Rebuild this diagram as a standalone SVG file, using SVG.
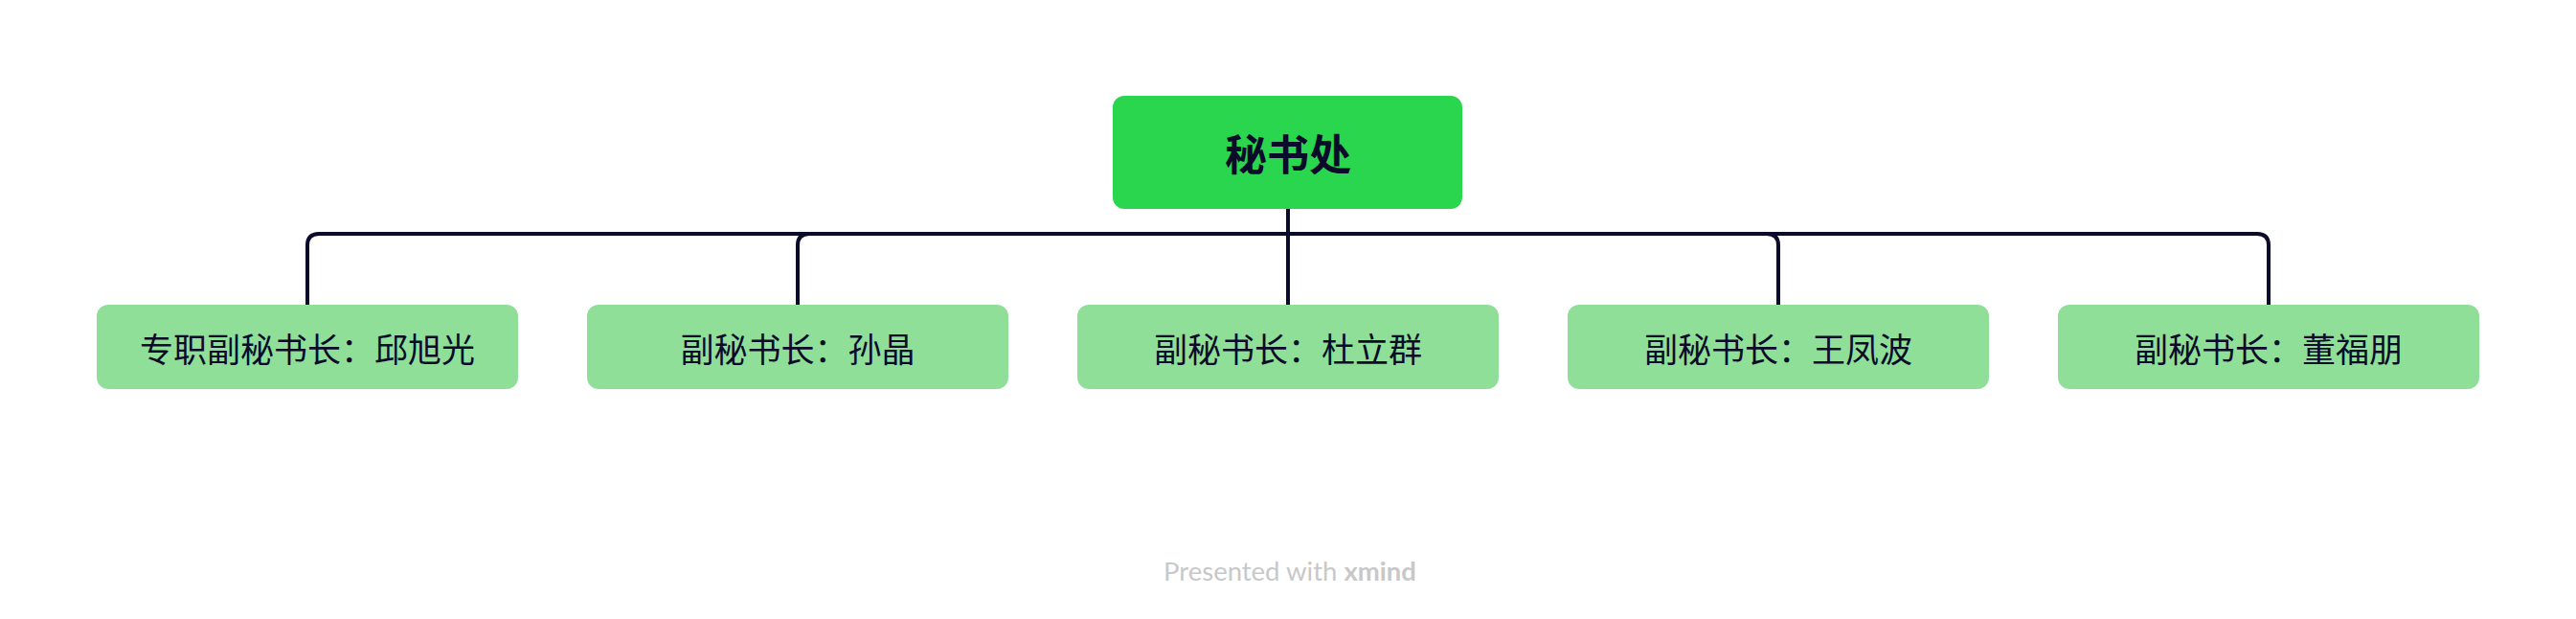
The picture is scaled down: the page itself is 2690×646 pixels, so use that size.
<svg xmlns="http://www.w3.org/2000/svg" width="2690" height="646" viewBox="0 0 2690 646">
<style>
.ch{fill:#8fdf98}
.t{font-family:"Noto Sans CJK SC","Noto Sans",sans-serif;fill:#0b0b2a;text-anchor:middle;dominant-baseline:central}
.c{fill:none;stroke:#0b0b2a;stroke-width:4}
</style>
<rect width="2690" height="646" fill="#fff"/>
<g id="connectors">
<line class="c" x1="1345" y1="218" x2="1345" y2="318"/>
<path class="c" d="M321 318V256Q321 244 333 244H2357Q2369 244 2369 256V318"/>
<path class="c" d="M833 318V256Q833 244 845 244"/>
<path class="c" d="M1857 318V256Q1857 244 1845 244"/>
</g>
<g id="root"><rect x="1162" y="100" width="365" height="118" rx="12" fill="#2bd64f"/><text class="t" x="1345" y="159" font-size="44" font-weight="bold">秘书处</text></g>
<g id="n1"><rect class="ch" x="101" y="318" width="440" height="88" rx="12"/><text class="t" x="321" y="362" font-size="35">专职副秘书长：邱旭光</text></g>
<g id="n2"><rect class="ch" x="613" y="318" width="440" height="88" rx="12"/><text class="t" x="833" y="362" font-size="35">副秘书长：孙晶</text></g>
<g id="n3"><rect class="ch" x="1125" y="318" width="440" height="88" rx="12"/><text class="t" x="1345" y="362" font-size="35">副秘书长：杜立群</text></g>
<g id="n4"><rect class="ch" x="1637" y="318" width="440" height="88" rx="12"/><text class="t" x="1857" y="362" font-size="35">副秘书长：王凤波</text></g>
<g id="n5"><rect class="ch" x="2149" y="318" width="440" height="88" rx="12"/><text class="t" x="2369" y="362" font-size="35">副秘书长：董福朋</text></g>
<text x="1215" y="606" font-family="Lato,'Open Sans',sans-serif" font-size="27.5" fill="#c8c8c8">Presented with <tspan font-weight="bold">xmind</tspan></text>
</svg>
